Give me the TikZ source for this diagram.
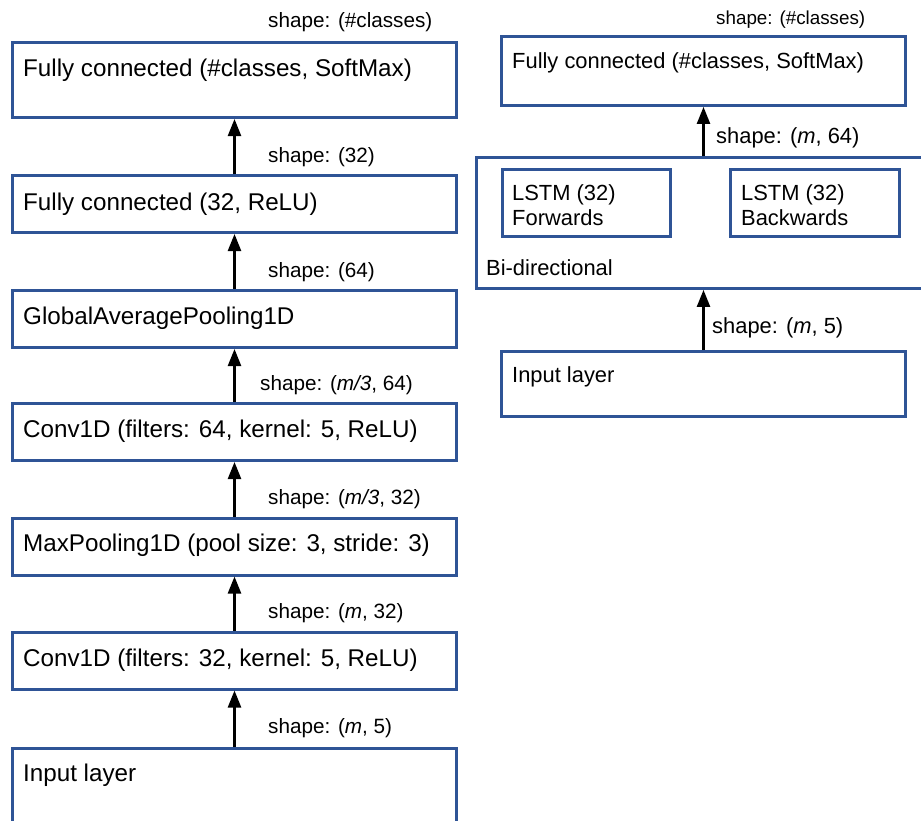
\documentclass[tikz,border=0pt]{standalone}
\usepackage{fontspec}
\setmainfont{Liberation Sans}
\usetikzlibrary{arrows.meta}
\definecolor{boxblue}{HTML}{2F5496}
\tikzset{
  lbox/.style={draw=boxblue, line width=3pt, rectangle, inner sep=0pt, minimum width=444pt},
  rbox/.style={draw=boxblue, line width=2.8pt, rectangle, inner sep=0pt},
  ltxt/.style={anchor=base west, inner sep=0pt, font=\fontsize{24.2}{29}\selectfont},
  llab/.style={anchor=base west, inner sep=0pt, font=\fontsize{20.7}{25}\selectfont},
  rtxt/.style={anchor=base west, inner sep=0pt, font=\fontsize{21.9}{26}\selectfont},
  rlab/.style={anchor=base west, inner sep=0pt, font=\fontsize{18.8}{23}\selectfont},
  arr/.style={-{Triangle[length=17pt,width=13pt]}, line width=2.4pt, black}
}
\begin{document}
\begin{tikzpicture}[x=1pt,y=-1pt]
\path[use as bounding box, clip] (0,0) rectangle (921,820);
\fill[white] (0,0) rectangle (921,820);
% ---------- left column ----------
\node[lbox, minimum height=75pt] (fc2) at (234.5,80) {};
\node[lbox, minimum height=57pt] (fc1) at (234.5,204) {};
\node[lbox, minimum height=57pt] (gap) at (234.5,319) {};
\node[lbox, minimum height=57pt] (conv2) at (234.5,432) {};
\node[lbox, minimum height=57pt] (pool) at (234.5,546.5) {};
\node[lbox, minimum height=57pt] (conv1) at (234.5,660.5) {};
\node[lbox, minimum height=120pt] (inp) at (234.5,808.5) {};

\node[ltxt] (tfc2) at (23,76) {Fully connected (\#classes, SoftMax)};
\node[ltxt] (tfc1) at (23,210) {Fully connected (32, ReLU)};
\node[ltxt] (tgap) at (23,324) {GlobalAveragePooling1D};
\node[ltxt] (tconv2) at (23,437) {Conv1D (filters: 64, kernel: 5, ReLU)};
\node[ltxt] (tpool) at (23,551) {MaxPooling1D (pool size: 3, stride: 3)};
\node[ltxt] (tconv1) at (23,666) {Conv1D (filters: 32, kernel: 5, ReLU)};
\node[ltxt] (tinp) at (23,781) {Input layer};

\draw[arr] (fc1.north) -- (fc2.south);
\draw[arr] (gap.north) -- (fc1.south);
\draw[arr] (conv2.north) -- (gap.south);
\draw[arr] (pool.north) -- (conv2.south);
\draw[arr] (conv1.north) -- (pool.south);
\draw[arr] (inp.north) -- (conv1.south);

\node[llab] (l0) at (268,27) {shape: (\#classes)};
\node[llab] (l1) at (268,162) {shape: (32)};
\node[llab] (l2) at (268,277) {shape: (64)};
\node[llab] (l3) at (260,390) {shape: (\textit{m/3}, 64)};
\node[llab] (l4) at (268,504) {shape: (\textit{m/3}, 32)};
\node[llab] (l5) at (268,618) {shape: (\textit{m}, 32)};
\node[llab] (l6) at (268,733) {shape: (\textit{m}, 5)};

% ---------- right column ----------
\node[rbox, minimum width=404pt, minimum height=69pt] (rfc) at (703.5,71) {};
\node[rbox, minimum width=474pt, minimum height=131pt] (bi) at (713.5,223) {};
\node[rbox, minimum width=168pt, minimum height=67pt] (fwd) at (586.5,203) {};
\node[rbox, minimum width=169pt, minimum height=67pt] (bwd) at (815,203) {};
\node[rbox, minimum width=404pt, minimum height=65pt] (rin) at (703.5,384) {};

\node[rtxt] (trfc) at (512,68) {Fully connected (\#classes, SoftMax)};
\node[rtxt, align=left, anchor=north west] (tfwd) at (512,184) {LSTM (32)\\[-0.5pt]Forwards};
\node[rtxt, align=left, anchor=north west] (tbwd) at (741,184) {LSTM (32)\\[-0.5pt]Backwards};
\node[rtxt] (tbi) at (486,275) {Bi-directional};
\node[rtxt] (trin) at (512,382) {Input layer};

\draw[arr] (rin.north) -- (rin.north |- bi.south);
\draw[arr] (rfc.south |- bi.north) -- (rfc.south);

\node[rlab] (r0) at (716,24) {shape: (\#classes)};
\node[rtxt] (r1) at (716,143) {shape: (\textit{m}, 64)};
\node[rtxt] (r2) at (712,333) {shape: (\textit{m}, 5)};
\end{tikzpicture}
\end{document}
